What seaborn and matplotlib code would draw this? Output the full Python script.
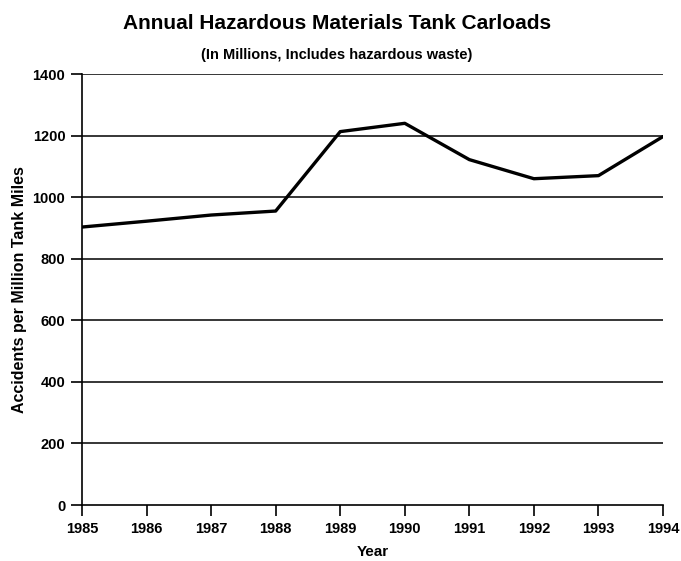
import numpy as np
import pandas as pd
import seaborn as sns
import matplotlib.pyplot as plt

years = [1985, 1986, 1987, 1988, 1989, 1990, 1991, 1992, 1993, 1994]
rates = [903, 922, 942, 955, 1213, 1240, 1122, 1060, 1070, 1197]
yticks = [0, 200, 400, 600, 800, 1000, 1200, 1400]

sns.set_style("white")
plt.rcParams['font.family'] = ['Liberation Sans', 'DejaVu Sans']
plt.rcParams['font.weight'] = 'bold'
plt.rcParams['text.color'] = 'black'
plt.rcParams['axes.labelcolor'] = 'black'
plt.rcParams['xtick.color'] = 'black'
plt.rcParams['ytick.color'] = 'black'

df = pd.DataFrame({'Year': years, 'Rate': rates})

fig = plt.figure(figsize=(6.81, 5.61), dpi=100)
ax = fig.add_axes([0.1204, 0.0998, 0.8532, 0.7682])

for v in yticks[1:]:
    ax.axhline(v, color='black', lw=1.1, zorder=1)

sns.lineplot(data=df, x='Year', y='Rate', color='black', lw=2.4, ax=ax, zorder=3)

ax.set_xlim(1985, 1994)
ax.set_ylim(0, 1400)
ax.set_xticks(years)
ax.set_xticklabels([str(y) for y in years], fontsize=10.5, fontweight='bold')
ax.set_yticks(yticks)
ax.set_yticklabels([str(v) for v in yticks], fontsize=10.5, fontweight='bold')
ax.tick_params(axis='both', direction='out', length=8, width=1.2, color='black',
               bottom=True, left=True)
ax.tick_params(axis='x', pad=4)
ax.tick_params(axis='y', pad=4)
for s in ['top', 'right']:
    ax.spines[s].set_visible(False)
for s in ['left', 'bottom']:
    ax.spines[s].set_color('black')
    ax.spines[s].set_linewidth(1.2)

ax.set_xlabel('Year', fontsize=11, fontweight='bold', labelpad=7)
ax.set_ylabel('Accidents per Million Tank Miles', fontsize=11.5, fontweight='bold', labelpad=4)

fig.text(0.495, 0.958, 'Annual Hazardous Materials Tank Carloads', ha='center', va='center',
         fontsize=15, fontweight='bold')
fig.text(0.495, 0.902, '(In Millions, Includes hazardous waste)', ha='center', va='center',
         fontsize=10.5, fontweight='bold')

fig.savefig('out.png', dpi=100)
